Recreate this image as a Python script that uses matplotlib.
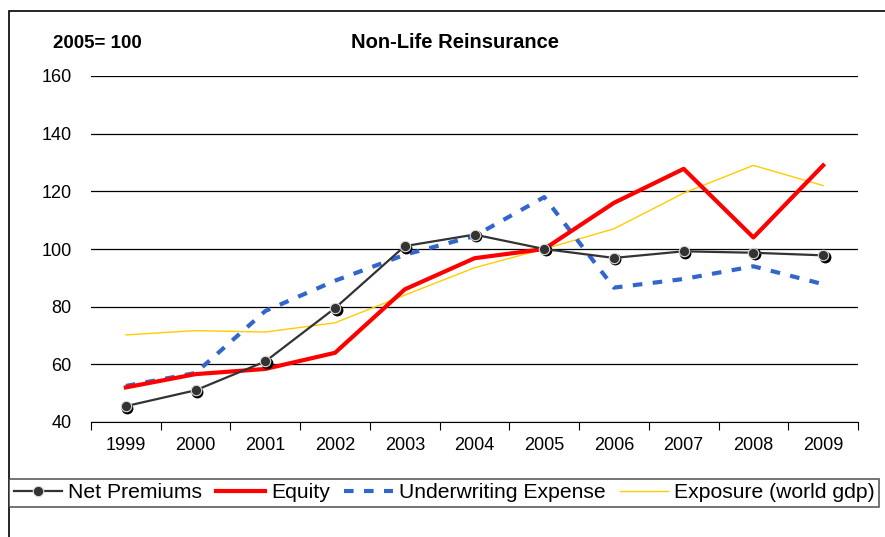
import matplotlib.pyplot as plt
import matplotlib.transforms as mtransforms
from matplotlib.patches import Rectangle

plt.rcParams['font.family'] = ['Liberation Sans', 'DejaVu Sans']

years = ["1999", "2000", "2001", "2002", "2003", "2004", "2005", "2006", "2007", "2008", "2009"]
net_premiums = [45.5, 51, 61, 79.5, 101, 105, 100, 96.9, 99.2, 98.7, 97.8]
equity = [52, 56.6, 58.4, 64, 86, 96.8, 100, 116, 127.8, 104, 129]
underwriting = [52.5, 57, 78.5, 89, 98, 104.5, 118, 86.6, 89.6, 94, 87.8]
exposure = [70.2, 71.7, 71.2, 74.4, 84, 93.5, 100, 107, 119.4, 129, 122]

fig = plt.figure(figsize=(8.85, 5.37), dpi=100)
ax = fig.add_axes([91 / 885, 1 - 422 / 537, (858 - 91) / 885, (422 - 76) / 537])

x = list(range(len(years)))

# shadow behind the markers
shadow = mtransforms.offset_copy(ax.transData, fig=fig, x=1.5, y=-1.5, units='dots')
ax.plot(x, net_premiums, linestyle='none', marker='o', markersize=7.5,
        color='black', transform=shadow, zorder=4)
ax.plot(x, net_premiums, color='#333333', lw=1.6, marker='o', markersize=7.5,
        markerfacecolor='#333333', markeredgecolor='#dddddd', markeredgewidth=0.8,
        label='Net Premiums', zorder=5)
ax.plot(x, equity, color='#ff0000', lw=3, label='Equity', zorder=3)
ax.plot(x, underwriting, color='#3366cc', lw=3, dashes=(2.3, 2.5), label='Underwriting Expense', zorder=2)
ax.plot(x, exposure, color='#ffcc00', lw=1, label='Exposure (world gdp)', zorder=1)

ax.set_xlim(-0.5, len(years) - 0.5)
ax.set_ylim(40, 160)
ax.set_yticks(range(40, 161, 20))
ax.yaxis.grid(True, color='black', lw=0.9)
ax.set_axisbelow(True)
for side in ['left', 'right', 'top']:
    ax.spines[side].set_visible(False)
ax.spines['bottom'].set_color('black')
ax.tick_params(axis='y', length=0, labelsize=13, pad=14)
ax.set_xticks([i - 0.5 for i in range(len(years) + 1)])
ax.set_xticklabels([])
ax.set_xticks(x, minor=True)
ax.set_xticklabels(years, minor=True, fontsize=13)
ax.tick_params(axis='x', which='major', length=6, direction='out')
ax.tick_params(axis='x', which='minor', length=0, pad=11)

fig.text(455 / 885, 1 - 42 / 537, 'Non-Life Reinsurance', ha='center', va='center',
         fontsize=14.5, fontweight='bold')
fig.text(53 / 885, 1 - 44 / 537, '2005= 100', ha='left', va='center',
         fontsize=13.5, fontweight='bold')

# outer frame
fig.patches.append(Rectangle((9 / 885, -0.1), 1.0, 1 - 11 / 537 + 0.1,
                             transform=fig.transFigure, fill=False,
                             edgecolor='black', lw=1.2))

leg = fig.legend(loc='center left', bbox_to_anchor=(9 / 885, 1 - 493 / 537), ncol=4,
                 frameon=True, fancybox=False, fontsize=15.2, handlelength=2.3,
                 handletextpad=0.28, columnspacing=0.68, borderpad=0.22, borderaxespad=0)
leg.get_frame().set_edgecolor('#333333')
leg.get_frame().set_linewidth(1.2)

fig.savefig('out.png', dpi=100)
